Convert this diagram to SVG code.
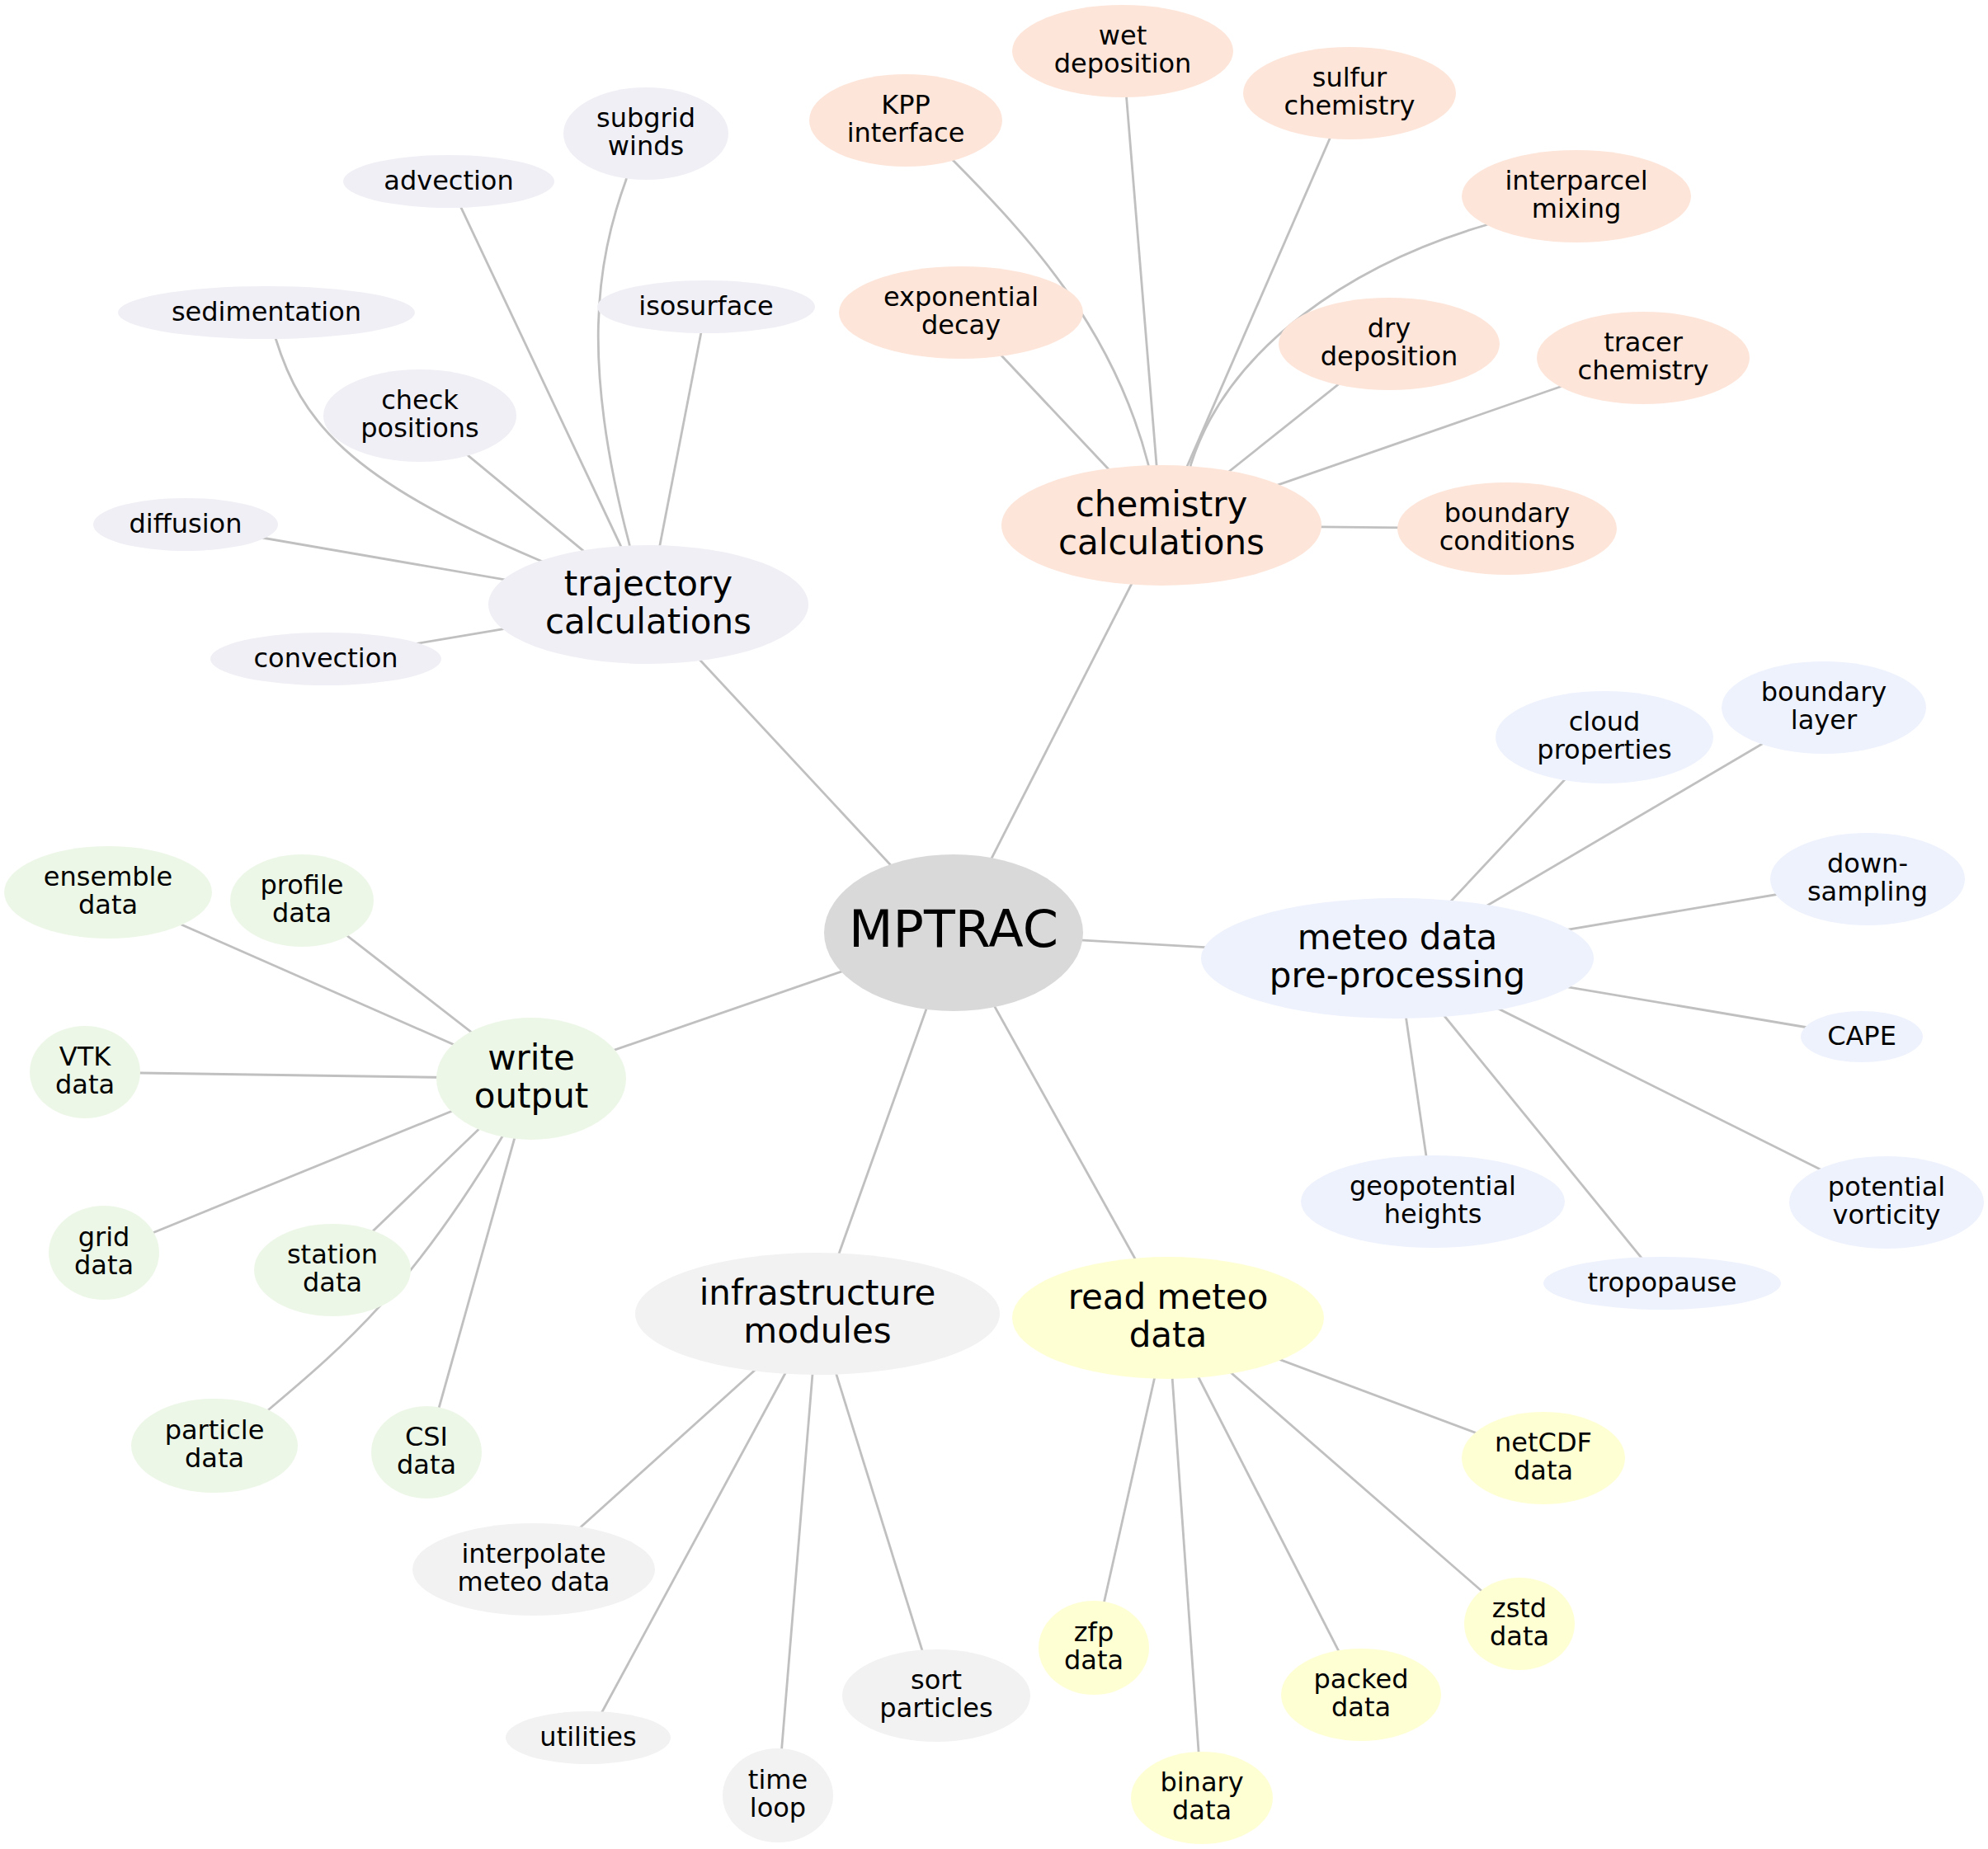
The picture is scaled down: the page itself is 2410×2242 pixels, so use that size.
<svg xmlns="http://www.w3.org/2000/svg" width="2410" height="2242" viewBox="0 0 2410 2242">
<style>
text{font-family:"DejaVu Sans","Liberation Sans",sans-serif;text-anchor:middle;fill:#000}
.l{font-size:32px}
.m{font-size:42px}
.c{font-size:62px}
.e{fill:none;stroke:#c0c0c0;stroke-width:2.8}
.tr{fill:#efeff5}
.ch{fill:#fde5d9}
.mp{fill:#eef2fd}
.wo{fill:#edf7e8}
.in{fill:#f2f2f2}
.rm{fill:#ffffd4}
.ce{fill:#d9d9d9}
</style>
<rect width="2410" height="2242" fill="#fff"/>
<g id="edges">
<line class="e" x1="1156" y1="1131" x2="786" y2="733"/>
<line class="e" x1="1156" y1="1131" x2="1408" y2="637"/>
<line class="e" x1="1156" y1="1131" x2="1694" y2="1162"/>
<line class="e" x1="1156" y1="1131" x2="644" y2="1308"/>
<line class="e" x1="1156" y1="1131" x2="991" y2="1593"/>
<line class="e" x1="1156" y1="1131" x2="1416" y2="1598"/>
<line class="e" x1="786" y1="733" x2="544" y2="220"/>
<line class="e" x1="786" y1="733" x2="856" y2="372"/>
<line class="e" x1="786" y1="733" x2="509" y2="504"/>
<line class="e" x1="786" y1="733" x2="225" y2="636"/>
<line class="e" x1="786" y1="733" x2="395" y2="799"/>
<path class="e" d="M333,400 L334,410 C365,510 420,580 653,679 L720,707"/>
<path class="e" d="M762,205 L759,218 C722,320 705,440 763,660 L770,700"/>
<line class="e" x1="1408" y1="637" x2="1361" y2="62"/>
<line class="e" x1="1408" y1="637" x2="1636" y2="113"/>
<line class="e" x1="1408" y1="637" x2="1165" y2="379"/>
<line class="e" x1="1408" y1="637" x2="1684" y2="417"/>
<line class="e" x1="1408" y1="637" x2="1992" y2="434"/>
<line class="e" x1="1408" y1="637" x2="1827" y2="641"/>
<path class="e" d="M1145,185 L1157,196 C1250,290 1350,400 1392,563 L1398,600"/>
<path class="e" d="M1815,267 L1801,273 C1640,320 1490,420 1444,562 L1435,600"/>
<line class="e" x1="1694" y1="1162" x2="1945" y2="894"/>
<line class="e" x1="1694" y1="1162" x2="2211" y2="858"/>
<line class="e" x1="1694" y1="1162" x2="2264" y2="1066"/>
<line class="e" x1="1694" y1="1162" x2="2257" y2="1257"/>
<line class="e" x1="1694" y1="1162" x2="2287" y2="1458"/>
<line class="e" x1="1694" y1="1162" x2="2015" y2="1556"/>
<line class="e" x1="1694" y1="1162" x2="1737" y2="1457"/>
<line class="e" x1="644" y1="1308" x2="131" y2="1082"/>
<line class="e" x1="644" y1="1308" x2="366" y2="1092"/>
<line class="e" x1="644" y1="1308" x2="103" y2="1300"/>
<line class="e" x1="644" y1="1308" x2="126" y2="1519"/>
<line class="e" x1="644" y1="1308" x2="403" y2="1540"/>
<line class="e" x1="644" y1="1308" x2="517" y2="1761"/>
<path class="e" d="M315,1719 L326,1709 C420,1630 500,1560 609,1378 L625,1350"/>
<line class="e" x1="991" y1="1593" x2="647" y2="1903"/>
<line class="e" x1="991" y1="1593" x2="713" y2="2107"/>
<line class="e" x1="991" y1="1593" x2="943" y2="2177"/>
<line class="e" x1="991" y1="1593" x2="1135" y2="2056"/>
<line class="e" x1="1416" y1="1598" x2="1871" y2="1768"/>
<line class="e" x1="1416" y1="1598" x2="1842" y2="1969"/>
<line class="e" x1="1416" y1="1598" x2="1650" y2="2055"/>
<line class="e" x1="1416" y1="1598" x2="1457" y2="2180"/>
<line class="e" x1="1416" y1="1598" x2="1326" y2="1998"/>
</g>
<g id="n-mptrac"><ellipse class="ce" cx="1156" cy="1131" rx="157" ry="95"/><text class="c" x="1156" y="1148">MPTRAC</text></g>

<g id="n-trajectory"><ellipse class="tr" cx="786" cy="733" rx="194" ry="72"/><text class="m"><tspan x="786" y="722">trajectory</tspan><tspan x="786" y="768">calculations</tspan></text></g>
<g id="n-advection"><ellipse class="tr" cx="544" cy="220" rx="128" ry="32"/><text class="l" x="544" y="230">advection</text></g>
<g id="n-subgrid"><ellipse class="tr" cx="783" cy="162" rx="100" ry="56"/><text class="l"><tspan x="783" y="154">subgrid</tspan><tspan x="783" y="188">winds</tspan></text></g>
<g id="n-sedimentation"><ellipse class="tr" cx="323" cy="379" rx="180" ry="32"/><text class="l" x="323" y="389">sedimentation</text></g>
<g id="n-isosurface"><ellipse class="tr" cx="856" cy="372" rx="132" ry="32"/><text class="l" x="856" y="382">isosurface</text></g>
<g id="n-check"><ellipse class="tr" cx="509" cy="504" rx="117" ry="56"/><text class="l"><tspan x="509" y="496">check</tspan><tspan x="509" y="530">positions</tspan></text></g>
<g id="n-diffusion"><ellipse class="tr" cx="225" cy="636" rx="112" ry="32"/><text class="l" x="225" y="646">diffusion</text></g>
<g id="n-convection"><ellipse class="tr" cx="395" cy="799" rx="140" ry="32"/><text class="l" x="395" y="809">convection</text></g>

<g id="n-chemistry"><ellipse class="ch" cx="1408" cy="637" rx="194" ry="73"/><text class="m"><tspan x="1408" y="626">chemistry</tspan><tspan x="1408" y="672">calculations</tspan></text></g>
<g id="n-kpp"><ellipse class="ch" cx="1098" cy="146" rx="117" ry="56"/><text class="l"><tspan x="1098" y="138">KPP</tspan><tspan x="1098" y="172">interface</tspan></text></g>
<g id="n-wet"><ellipse class="ch" cx="1361" cy="62" rx="134" ry="56"/><text class="l"><tspan x="1361" y="54">wet</tspan><tspan x="1361" y="88">deposition</tspan></text></g>
<g id="n-sulfur"><ellipse class="ch" cx="1636" cy="113" rx="129" ry="56"/><text class="l"><tspan x="1636" y="105">sulfur</tspan><tspan x="1636" y="139">chemistry</tspan></text></g>
<g id="n-interparcel"><ellipse class="ch" cx="1911" cy="238" rx="139" ry="56"/><text class="l"><tspan x="1911" y="230">interparcel</tspan><tspan x="1911" y="264">mixing</tspan></text></g>
<g id="n-exponential"><ellipse class="ch" cx="1165" cy="379" rx="148" ry="56"/><text class="l"><tspan x="1165" y="371">exponential</tspan><tspan x="1165" y="405">decay</tspan></text></g>
<g id="n-dry"><ellipse class="ch" cx="1684" cy="417" rx="134" ry="56"/><text class="l"><tspan x="1684" y="409">dry</tspan><tspan x="1684" y="443">deposition</tspan></text></g>
<g id="n-tracer"><ellipse class="ch" cx="1992" cy="434" rx="129" ry="56"/><text class="l"><tspan x="1992" y="426">tracer</tspan><tspan x="1992" y="460">chemistry</tspan></text></g>
<g id="n-bconditions"><ellipse class="ch" cx="1827" cy="641" rx="133" ry="56"/><text class="l"><tspan x="1827" y="633">boundary</tspan><tspan x="1827" y="667">conditions</tspan></text></g>

<g id="n-meteoprep"><ellipse class="mp" cx="1694" cy="1162" rx="238" ry="73"/><text class="m"><tspan x="1694" y="1151">meteo data</tspan><tspan x="1694" y="1197">pre-processing</tspan></text></g>
<g id="n-cloud"><ellipse class="mp" cx="1945" cy="894" rx="132" ry="56"/><text class="l"><tspan x="1945" y="886">cloud</tspan><tspan x="1945" y="920">properties</tspan></text></g>
<g id="n-blayer"><ellipse class="mp" cx="2211" cy="858" rx="124" ry="56"/><text class="l"><tspan x="2211" y="850">boundary</tspan><tspan x="2211" y="884">layer</tspan></text></g>
<g id="n-downsampling"><ellipse class="mp" cx="2264" cy="1066" rx="118" ry="56"/><text class="l"><tspan x="2264" y="1058">down-</tspan><tspan x="2264" y="1092">sampling</tspan></text></g>
<g id="n-cape"><ellipse class="mp" cx="2257" cy="1257" rx="74" ry="31"/><text class="l" x="2257" y="1267">CAPE</text></g>
<g id="n-pv"><ellipse class="mp" cx="2287" cy="1458" rx="118" ry="56"/><text class="l"><tspan x="2287" y="1450">potential</tspan><tspan x="2287" y="1484">vorticity</tspan></text></g>
<g id="n-tropopause"><ellipse class="mp" cx="2015" cy="1556" rx="144" ry="32"/><text class="l" x="2015" y="1566">tropopause</text></g>
<g id="n-geopotential"><ellipse class="mp" cx="1737" cy="1457" rx="160" ry="56"/><text class="l"><tspan x="1737" y="1449">geopotential</tspan><tspan x="1737" y="1483">heights</tspan></text></g>

<g id="n-write"><ellipse class="wo" cx="644" cy="1308" rx="115" ry="74"/><text class="m"><tspan x="644" y="1297">write</tspan><tspan x="644" y="1343">output</tspan></text></g>
<g id="n-ensemble"><ellipse class="wo" cx="131" cy="1082" rx="126" ry="56"/><text class="l"><tspan x="131" y="1074">ensemble</tspan><tspan x="131" y="1108">data</tspan></text></g>
<g id="n-profile"><ellipse class="wo" cx="366" cy="1092" rx="87" ry="56"/><text class="l"><tspan x="366" y="1084">profile</tspan><tspan x="366" y="1118">data</tspan></text></g>
<g id="n-vtk"><ellipse class="wo" cx="103" cy="1300" rx="67" ry="56"/><text class="l"><tspan x="103" y="1292">VTK</tspan><tspan x="103" y="1326">data</tspan></text></g>
<g id="n-grid"><ellipse class="wo" cx="126" cy="1519" rx="67" ry="57"/><text class="l"><tspan x="126" y="1511">grid</tspan><tspan x="126" y="1545">data</tspan></text></g>
<g id="n-station"><ellipse class="wo" cx="403" cy="1540" rx="95" ry="56"/><text class="l"><tspan x="403" y="1532">station</tspan><tspan x="403" y="1566">data</tspan></text></g>
<g id="n-particle"><ellipse class="wo" cx="260" cy="1753" rx="101" ry="57"/><text class="l"><tspan x="260" y="1745">particle</tspan><tspan x="260" y="1779">data</tspan></text></g>
<g id="n-csi"><ellipse class="wo" cx="517" cy="1761" rx="67" ry="56"/><text class="l"><tspan x="517" y="1753">CSI</tspan><tspan x="517" y="1787">data</tspan></text></g>

<g id="n-infra"><ellipse class="in" cx="991" cy="1593" rx="221" ry="74"/><text class="m"><tspan x="991" y="1582">infrastructure</tspan><tspan x="991" y="1628">modules</tspan></text></g>
<g id="n-interpolate"><ellipse class="in" cx="647" cy="1903" rx="147" ry="56"/><text class="l"><tspan x="647" y="1895">interpolate</tspan><tspan x="647" y="1929">meteo data</tspan></text></g>
<g id="n-utilities"><ellipse class="in" cx="713" cy="2107" rx="100" ry="32"/><text class="l" x="713" y="2117">utilities</text></g>
<g id="n-timeloop"><ellipse class="in" cx="943" cy="2177" rx="67" ry="57"/><text class="l"><tspan x="943" y="2169">time</tspan><tspan x="943" y="2203">loop</tspan></text></g>
<g id="n-sort"><ellipse class="in" cx="1135" cy="2056" rx="114" ry="56"/><text class="l"><tspan x="1135" y="2048">sort</tspan><tspan x="1135" y="2082">particles</tspan></text></g>

<g id="n-readmeteo"><ellipse class="rm" cx="1416" cy="1598" rx="189" ry="74"/><text class="m"><tspan x="1416" y="1587">read meteo</tspan><tspan x="1416" y="1633">data</tspan></text></g>
<g id="n-netcdf"><ellipse class="rm" cx="1871" cy="1768" rx="99" ry="56"/><text class="l"><tspan x="1871" y="1760">netCDF</tspan><tspan x="1871" y="1794">data</tspan></text></g>
<g id="n-zstd"><ellipse class="rm" cx="1842" cy="1969" rx="67" ry="56"/><text class="l"><tspan x="1842" y="1961">zstd</tspan><tspan x="1842" y="1995">data</tspan></text></g>
<g id="n-packed"><ellipse class="rm" cx="1650" cy="2055" rx="97" ry="56"/><text class="l"><tspan x="1650" y="2047">packed</tspan><tspan x="1650" y="2081">data</tspan></text></g>
<g id="n-binary"><ellipse class="rm" cx="1457" cy="2180" rx="86" ry="56"/><text class="l"><tspan x="1457" y="2172">binary</tspan><tspan x="1457" y="2206">data</tspan></text></g>
<g id="n-zfp"><ellipse class="rm" cx="1326" cy="1998" rx="67" ry="57"/><text class="l"><tspan x="1326" y="1990">zfp</tspan><tspan x="1326" y="2024">data</tspan></text></g>
</svg>
